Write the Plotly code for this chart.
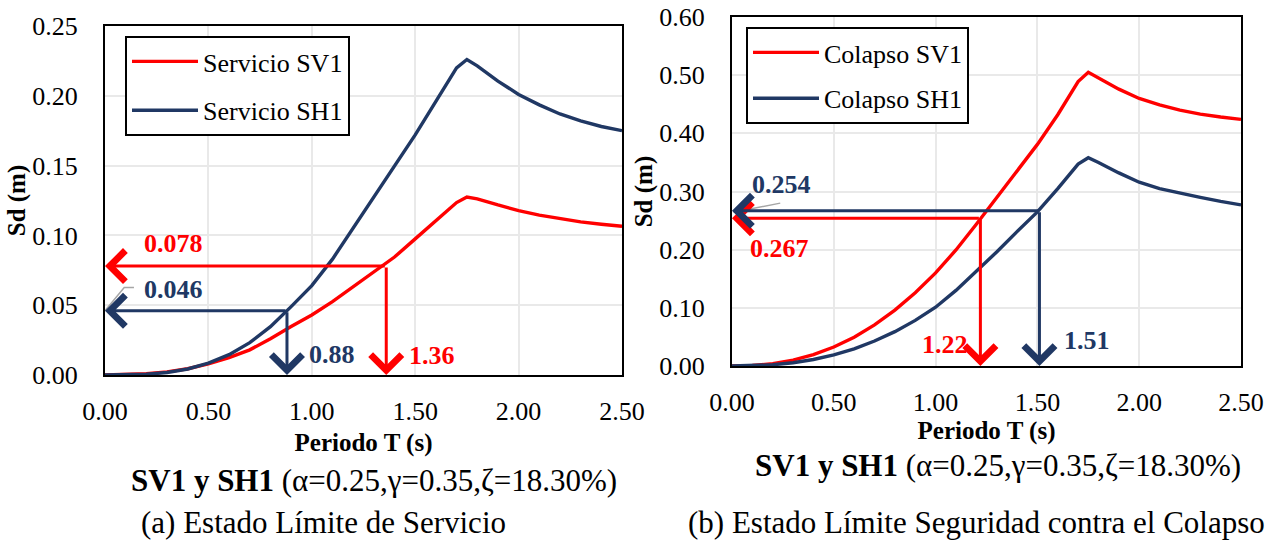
import plotly.graph_objects as go

# ---------------- data ----------------
periods = [0.0, 0.1, 0.2, 0.3, 0.4, 0.5, 0.6, 0.7, 0.8, 0.9, 1.0, 1.1, 1.2, 1.3,
           1.4, 1.5, 1.6, 1.7, 1.75, 1.8, 1.9, 2.0, 2.1, 2.2, 2.3, 2.4, 2.5]

servicio_sv1 = [0.0, 0.0002, 0.0009, 0.0022, 0.0045, 0.0079, 0.0125, 0.018, 0.026,
                0.0347, 0.043, 0.0525, 0.063, 0.0735, 0.0845, 0.0975, 0.1105, 0.1235,
                0.1275, 0.1262, 0.1218, 0.1178, 0.1145, 0.1118, 0.1097, 0.108, 0.1065]
servicio_sh1 = [0.0, 0.0001, 0.0005, 0.0018, 0.0043, 0.0085, 0.0146, 0.0232, 0.0346,
                0.049, 0.064, 0.083, 0.105, 0.128, 0.150, 0.172, 0.196, 0.220,
                0.226, 0.2215, 0.2105, 0.201, 0.1935, 0.187, 0.182, 0.178, 0.175]

colapso_sv1 = [0.0, 0.0008, 0.004, 0.0101, 0.0195, 0.0326, 0.0495, 0.0706, 0.096,
               0.126, 0.160, 0.1995, 0.2438, 0.290, 0.335, 0.381, 0.432, 0.489,
               0.505, 0.495, 0.476, 0.460, 0.449, 0.440, 0.433, 0.428, 0.424]
colapso_sh1 = [0.0, 0.0004, 0.0021, 0.0056, 0.0112, 0.0191, 0.0296, 0.0429, 0.0591,
               0.0784, 0.101, 0.130, 0.163, 0.196, 0.231, 0.265, 0.305, 0.347,
               0.358, 0.350, 0.332, 0.316, 0.305, 0.297, 0.290, 0.283, 0.277]

# performance points (T, Sd) marked with arrows
serv_points_T = [1.36, 0.88]      # SV1, SH1
serv_points_Sd = [0.078, 0.046]
col_points_T = [1.22, 1.51]       # SV1, SH1
col_points_Sd = [0.254, 0.267]

serv_Sd_labels = ["0.078", "0.046"]
serv_T_labels = ["1.36", "0.88"]
col_Sd_labels = ["0.267", "0.254"]   # as printed in the original
col_T_labels = ["1.22", "1.51"]

x_ticks = [0.0, 0.5, 1.0, 1.5, 2.0, 2.5]
y_ticks_serv = [0.0, 0.05, 0.10, 0.15, 0.20, 0.25]
y_ticks_col = [0.0, 0.1, 0.2, 0.3, 0.4, 0.5, 0.6]

RED = "#FF0000"
NAVY = "#203864"
FONT = "Liberation Serif, Times New Roman, serif"
LW = 3.4

fig = go.Figure()

fig.add_trace(go.Scatter(x=periods, y=servicio_sv1, mode="lines", name="Servicio SV1",
                         line=dict(color=RED, width=LW), xaxis="x", yaxis="y",
                         legend="legend", legendgroup="a"))
fig.add_trace(go.Scatter(x=periods, y=servicio_sh1, mode="lines", name="Servicio SH1",
                         line=dict(color=NAVY, width=LW), xaxis="x", yaxis="y",
                         legend="legend", legendgroup="b"))
fig.add_trace(go.Scatter(x=periods, y=colapso_sv1, mode="lines", name="Colapso SV1",
                         line=dict(color=RED, width=LW), xaxis="x2", yaxis="y2",
                         legend="legend2", legendgroup="c"))
fig.add_trace(go.Scatter(x=periods, y=colapso_sh1, mode="lines", name="Colapso SH1",
                         line=dict(color=NAVY, width=LW), xaxis="x2", yaxis="y2",
                         legend="legend2", legendgroup="d"))

annotations = []
shapes = []


def add_arrows(xr, yr, Ts, Sds, colors):
    for T, S, c in zip(Ts, Sds, colors):
        # horizontal arrow to the Sd axis
        annotations.append(dict(x=0, y=S, ax=T, ay=S, xref=xr, yref=yr, axref=xr, ayref=yr,
                                text="", showarrow=True, arrowhead=4, arrowsize=2.0,
                                arrowwidth=3, arrowcolor=c, standoff=0, startstandoff=0))
        # vertical arrow to the T axis
        annotations.append(dict(x=T, y=0, ax=T, ay=S, xref=xr, yref=yr, axref=xr, ayref=yr,
                                text="", showarrow=True, arrowhead=4, arrowsize=2.0,
                                arrowwidth=3, arrowcolor=c, standoff=0, startstandoff=0))


add_arrows("x", "y", serv_points_T, serv_points_Sd, [RED, NAVY])
add_arrows("x2", "y2", col_points_T, col_points_Sd, [RED, NAVY])


def lab(x, y, xr, yr, txt, c):
    return dict(x=x, y=y, xref=xr, yref=yr, text="<b>%s</b>" % txt, showarrow=False,
                xanchor="center", yanchor="middle",
                font=dict(family=FONT, size=26, color=c))


# value labels, left chart
annotations += [
    lab(0.332, 0.0942, "x", "y", serv_Sd_labels[0], RED),
    lab(0.332, 0.0612, "x", "y", serv_Sd_labels[1], NAVY),
    lab(1.097, 0.0145, "x", "y", serv_T_labels[1], NAVY),
    lab(1.58, 0.0139, "x", "y", serv_T_labels[0], RED),
]
# value labels, right chart
annotations += [
    lab(0.2435, 0.3127, "x2", "y2", col_Sd_labels[1], NAVY),
    lab(0.233, 0.2015, "x2", "y2", col_Sd_labels[0], RED),
    lab(1.045, 0.0372, "x2", "y2", col_T_labels[0], RED),
    lab(1.743, 0.043, "x2", "y2", col_T_labels[1], NAVY),
]

# captions
cap_font = dict(family=FONT, size=31, color="black")


def cap(x, y, txt):
    return dict(x=x, y=y, xref="paper", yref="paper", showarrow=False, font=cap_font,
                xanchor="center", yanchor="middle", text=txt)


annotations += [
    cap(374 / 1275, 1 - 480 / 540, "<b>SV1 y SH1</b> (α=0.25,γ=0.35,ζ=18.30%)"),
    cap(998 / 1275, 1 - 465 / 540, "<b>SV1 y SH1</b> (α=0.25,γ=0.35,ζ=18.30%)"),
    cap(324 / 1275, 1 - 522 / 540, "(a) Estado Límite de Servicio"),
    cap(976 / 1275, 1 - 522 / 540, "(b) Estado Límite Seguridad contra el Colapso"),
]

# grey leader lines of the labels
shapes += [
    dict(type="path", xref="x", yref="y", path="M 0,0.046 L 0.093,0.0627 L 0.14,0.0627",
         line=dict(color="#a6a6a6", width=1.5)),
    dict(type="line", xref="x2", yref="y2", x0=0.008, y0=0.2645, x1=0.237, y1=0.280,
         line=dict(color="#a6a6a6", width=1.5)),
]

axis_common = dict(showline=True, mirror=True, linecolor="black", linewidth=2,
                   showgrid=True, gridcolor="#e9e9e9", gridwidth=2, zeroline=False,
                   ticks="", tickformat=".2f", automargin=False,
                   tickfont=dict(family=FONT, size=26, color="black"))
title_font = dict(family=FONT, size=25, color="black")

fig.update_layout(
    template="none",
    width=1275, height=540,
    margin=dict(l=0, r=0, t=0, b=0, pad=0),
    paper_bgcolor="white", plot_bgcolor="white",
    font=dict(family=FONT, color="black"),
    xaxis=dict(domain=[105 / 1275, 622 / 1275], range=[0, 2.5], tickvals=x_ticks,
               anchor="y", ticklabelstandoff=12,
               title=dict(text="<b>Periodo T (s)</b>", font=title_font, standoff=8),
               **axis_common),
    yaxis=dict(domain=[1 - 375 / 540, 1 - 26 / 540], range=[0, 0.25], tickvals=y_ticks_serv,
               anchor="x", ticklabelstandoff=20,
               title=dict(text="<b>Sd (m)</b>", font=title_font, standoff=0),
               **axis_common),
    xaxis2=dict(domain=[732 / 1275, 1241 / 1275], range=[0, 2.5], tickvals=x_ticks,
                anchor="y2", ticklabelstandoff=12,
                title=dict(text="<b>Periodo T (s)</b>", font=title_font, standoff=5),
                **axis_common),
    yaxis2=dict(domain=[1 - 366 / 540, 1 - 17 / 540], range=[0, 0.6], tickvals=y_ticks_col,
                anchor="x2", ticklabelstandoff=20,
                title=dict(text="<b>Sd (m)</b>", font=title_font, standoff=0),
                **axis_common),
    legend=dict(x=125 / 1275, y=1 - 36 / 540, xanchor="left", yanchor="top",
                bgcolor="white", bordercolor="black", borderwidth=2,
                font=dict(family=FONT, size=26, color="black"),
                tracegroupgap=12, itemwidth=66),
    legend2=dict(x=746 / 1275, y=1 - 27 / 540, xanchor="left", yanchor="top",
                 bgcolor="white", bordercolor="black", borderwidth=2,
                 font=dict(family=FONT, size=26, color="black"),
                 tracegroupgap=9, itemwidth=66),
    annotations=annotations,
    shapes=shapes,
    showlegend=True,
)

fig.write_html("out.html")
